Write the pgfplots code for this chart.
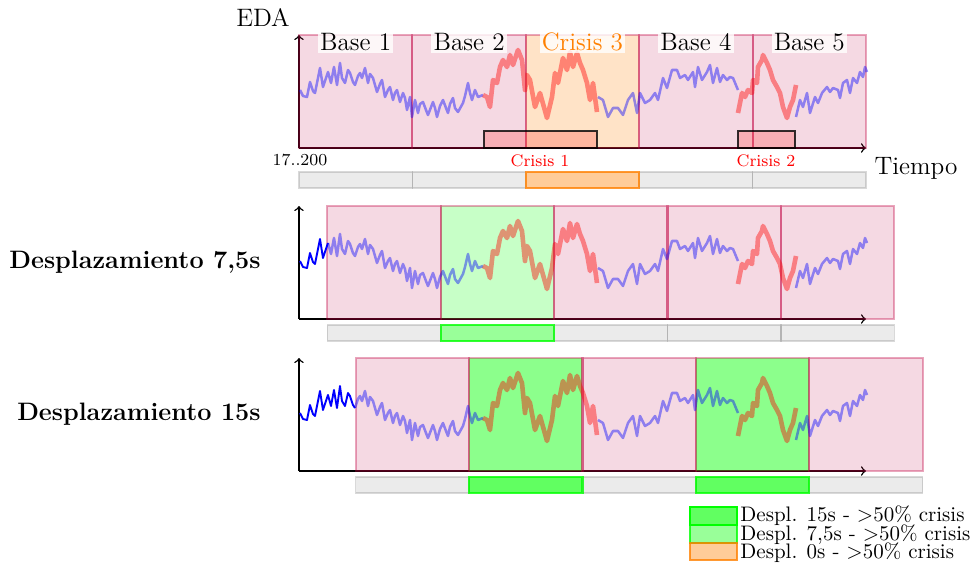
\documentclass[border=0pt]{standalone}
\usepackage{pgfplots}
\pgfplotsset{compat=1.18}
\usepackage{pgfplotstable}

% EDA signal, split into segments (x: time offset, y: level)
\pgfplotstableread{
x y
1 58
4 52
8 51
11 66
14 57
16 55
19 70
21 80
24 61
27 70
29 76
32 65
35 81
38 63
41 85
43 70
46 65
49 78
51 75
54 66
56 63
59 72
61 75
63 70
66 80
69 65
71 74
74 70
78 56
81 64
83 68
86 51
89 58
91 61
94 48
96 55
98 58
101 46
104 55
106 50
108 38
111 51
113 31
116 48
119 35
121 44
124 46
127 38
129 33
134 46
136 40
138 31
141 42
144 48
147 40
149 35
151 44
154 50
156 40
159 36
164 45
166 52
169 65
171 55
173 48
176 58
179 51
184 53
}\sigA
\pgfplotstableread{
x y
184 53
188 51
191 41
194 68
198 65
201 81
204 88
208 81
211 93
214 83
219 98
223 88
226 58
228 73
231 68
236 41
241 55
248 30
253 51
256 75
259 65
264 90
268 78
271 96
274 81
278 95
281 85
284 78
288 65
291 48
294 65
298 36
}\sigB
\pgfplotstableread{
x y
299 51
304 48
309 31
314 40
319 40
324 33
329 48
334 55
338 35
341 55
346 45
351 48
356 55
359 48
364 70
368 60
373 78
378 78
381 70
386 73
389 68
394 76
396 61
399 81
403 68
408 76
411 83
414 65
418 80
421 66
424 73
428 68
431 71
434 70
439 58
}\sigC
\pgfplotstableread{
x y
439 35
443 55
446 51
449 58
453 55
454 68
458 65
459 81
463 88
464 93
468 85
471 78
474 68
478 61
481 55
484 41
488 30
491 41
494 48
497 63
}\sigD
\pgfplotstableread{
x y
497 31
501 48
504 41
508 55
511 35
516 51
519 45
523 55
528 61
531 56
534 60
539 58
541 50
544 65
548 68
551 55
554 70
558 65
561 76
564 71
566 81
568 76
}\sigE

\pgfplotsset{
  panel/.style={scale only axis, width=270pt, height=53.81pt,
    xmin=0, xmax=567, ymin=0, ymax=113,
    axis lines=left, axis line style={->, line width=0.7pt, black},
    xtick=\empty, ytick=\empty, clip=false},
  win/.style={fill=purple, fill opacity=0.15, draw=purple, draw opacity=0.35, line width=1pt, mark=none},
  winO/.style={fill=orange, fill opacity=0.22, draw=purple, draw opacity=0.35, line width=1pt, mark=none},
  winG/.style={fill=green, fill opacity=#1, draw=purple, draw opacity=0.35, line width=1pt, mark=none},
  gbar/.style={fill=gray, fill opacity=0.16, draw=gray, draw opacity=0.3, line width=0.6pt, mark=none},
  obar/.style={fill=orange, fill opacity=0.4, draw=orange, draw opacity=0.8, line width=1pt, mark=none},
  grbar/.style={fill=green, fill opacity=#1, draw=green, draw opacity=0.8, line width=1pt, mark=none},
  crbox/.style={fill=red, fill opacity=0.2, draw=black, draw opacity=0.8, line width=0.5pt, mark=none},
  sigp/.style={blue, opacity=0.42, line width=1.2pt, line join=round, mark=none},
  sigr/.style={red, opacity=0.42, line width=2.2pt, line join=round, mark=none},
  sigb/.style={blue, line width=0.9pt, line join=round, mark=none},
}
\newcommand{\rect}[5]{\addplot[#1] coordinates {(#2,#3) (#4,#3) (#4,#5) (#2,#5)} -- cycle;}

\begin{document}
\begin{tikzpicture}
% ---------------- Panel 1 (no shift)
\begin{axis}[panel, at={(0pt,0pt)}, anchor=south west]
  \rect{win}{0}{0}{113.4}{113}
  \rect{win}{113.4}{0}{226.8}{113}
  \rect{winO}{226.8}{0}{340.2}{113}
  \rect{win}{340.2}{0}{453.6}{113}
  \rect{win}{453.6}{0}{567}{113}
  \rect{gbar}{0}{-24}{113.4}{-40}
  \rect{gbar}{113.4}{-24}{226.8}{-40}
  \rect{gbar}{340.2}{-24}{453.6}{-40}
  \rect{gbar}{453.6}{-24}{567}{-40}
  \rect{obar}{226.8}{-24}{340.2}{-40}
  \addplot[sigp] table {\sigA};
  \addplot[sigr] table {\sigB};
  \addplot[sigp] table {\sigC};
  \addplot[sigr] table {\sigD};
  \addplot[sigp] table {\sigE};
  \rect{crbox}{185}{0}{298}{17}
  \rect{crbox}{439}{0}{496}{17}
  \node[font=\large, fill=white, fill opacity=0.8, text opacity=1, inner sep=1pt] at (axis cs:56.7,106) {Base 1};
  \node[font=\large, fill=white, fill opacity=0.8, text opacity=1, inner sep=1pt] at (axis cs:170.1,106) {Base 2};
  \node[font=\large, fill=white, fill opacity=0.8, text opacity=1, inner sep=1pt, text=orange] at (axis cs:283.5,106) {Crisis 3};
  \node[font=\large, fill=white, fill opacity=0.8, text opacity=1, inner sep=1pt] at (axis cs:396.9,106) {Base 4};
  \node[font=\large, fill=white, fill opacity=0.8, text opacity=1, inner sep=1pt] at (axis cs:510.3,106) {Base 5};
  \node[font=\footnotesize, text=red] at (axis cs:241,-13) {Crisis 1};
  \node[font=\footnotesize, text=red] at (axis cs:467,-13) {Crisis 2};
  \node[font=\footnotesize] at (axis cs:1,-12) {17..200};
  \node[font=\large] at (axis cs:-36,130) {EDA};
  \node[font=\large] at (axis cs:617,-20) {Tiempo};
\end{axis}
% ---------------- Panel 2 (7.5 s shift)
\begin{axis}[panel, at={(0pt,-81.43pt)}, anchor=south west]
  \rect{win}{28.35}{0}{141.75}{113}
  \rect{winG=0.22}{141.75}{0}{255.15}{113}
  \rect{win}{255.15}{0}{368.55}{113}
  \rect{win}{368.55}{0}{481.95}{113}
  \rect{win}{481.95}{0}{595.35}{113}
  \rect{gbar}{28.35}{-6}{141.75}{-22}
  \rect{gbar}{255.15}{-6}{368.55}{-22}
  \rect{gbar}{368.55}{-6}{481.95}{-22}
  \rect{gbar}{481.95}{-6}{595.35}{-22}
  \rect{grbar=0.4}{141.75}{-6}{255.15}{-22}
  \addplot[sigb, restrict x to domain=0:29.5] table {\sigA};
  \addplot[sigp, restrict x to domain=28.5:200] table {\sigA};
  \addplot[sigr] table {\sigB};
  \addplot[sigp] table {\sigC};
  \addplot[sigr] table {\sigD};
  \addplot[sigp] table {\sigE};
  \node[font=\large\bfseries, anchor=east, inner sep=0pt] at (axis cs:-38,57) {Desplazamiento 7,5s};
\end{axis}
% ---------------- Panel 3 (15 s shift)
\begin{axis}[panel, at={(0pt,-153.81pt)}, anchor=south west]
  \rect{win}{56.7}{0}{170.1}{113}
  \rect{winG=0.45}{170.1}{0}{283.5}{113}
  \rect{win}{283.5}{0}{396.9}{113}
  \rect{winG=0.45}{396.9}{0}{510.3}{113}
  \rect{win}{510.3}{0}{623.7}{113}
  \rect{gbar}{56.7}{-6}{170.1}{-22}
  \rect{gbar}{283.5}{-6}{396.9}{-22}
  \rect{gbar}{510.3}{-6}{623.7}{-22}
  \rect{grbar=0.62}{170.1}{-6}{283.5}{-22}
  \rect{grbar=0.62}{396.9}{-6}{510.3}{-22}
  \addplot[sigb, restrict x to domain=0:57] table {\sigA};
  \addplot[sigp, restrict x to domain=55:200] table {\sigA};
  \addplot[sigr] table {\sigB};
  \addplot[sigp] table {\sigC};
  \addplot[sigr] table {\sigD};
  \addplot[sigp] table {\sigE};
  \node[font=\large\bfseries, anchor=east, inner sep=0pt] at (axis cs:-38,57) {Desplazamiento 15s};
  % legend
  \draw[fill=green, fill opacity=0.62, draw=green, line width=1pt] (axis cs:391,-36) rectangle (axis cs:438,-54);
  \draw[fill=green, fill opacity=0.4, draw=green, draw opacity=0.8, line width=1pt] (axis cs:391,-54) rectangle (axis cs:438,-72);
  \draw[fill=orange, fill opacity=0.4, draw=orange, draw opacity=0.8, line width=1pt] (axis cs:391,-72) rectangle (axis cs:438,-89);
  \node[anchor=west, inner sep=0pt] at (axis cs:441,-45) {Despl. 15s - $>$50\% crisis};
  \node[anchor=west, inner sep=0pt] at (axis cs:441,-63.5) {Despl. 7,5s - $>$50\% crisis};
  \node[anchor=west, inner sep=0pt] at (axis cs:441,-82) {Despl. 0s - $>$50\% crisis};
\end{axis}
\pgfresetboundingbox
\path[use as bounding box] (-142.38pt,-199.05pt) rectangle (320.48pt,70.48pt);
\end{tikzpicture}
\end{document}
